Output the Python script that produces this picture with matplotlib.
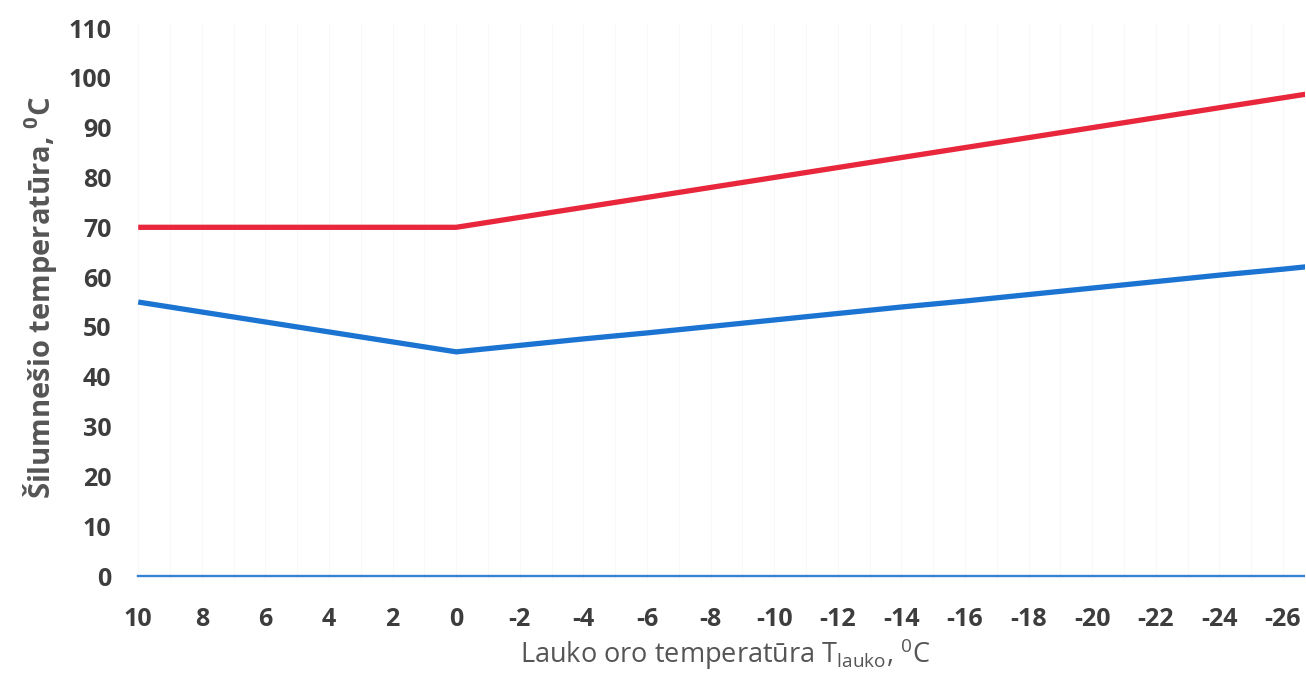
import matplotlib
matplotlib.use('Agg')
import matplotlib.pyplot as plt

# outdoor temperature, every 2 degrees (last point runs past the cropped edge)
t_outdoor = [10, 8, 6, 4, 2, 0, -2, -4, -6, -8, -10, -12, -14, -16, -18, -20,
             -22, -24, -26, -28]
# supply temperature (red)
t_supply = [70, 70, 70, 70, 70, 70, 72, 74, 76, 78, 80, 82, 84, 86, 88, 90,
            92, 94, 96, 98]
# return temperature (blue)
t_return = [55, 53, 51, 49, 47, 45, 46.3, 47.6, 48.8, 50.1, 51.4, 52.7, 54.0,
            55.2, 56.5, 57.8, 59.1, 60.4, 61.6, 62.9]
# third series sitting on zero
t_zero = [0] * len(t_outdoor)

x_ticks = list(range(10, -27, -2))
y_ticks = list(range(0, 111, 10))

plt.rcParams['font.family'] = ['Open Sans', 'DejaVu Sans']
plt.rcParams['axes.unicode_minus'] = False

fig = plt.figure(figsize=(13.06, 6.76), dpi=100)
ax = fig.add_axes([0.1034, 0.1405, 0.896, 0.8254])

# very faint vertical gridlines every degree
for xv in range(10, -27, -1):
    ax.axvline(xv, color='#f8f8f8', lw=0.9, zorder=0)

ax.plot(t_outdoor, t_supply, color='#e8263c', lw=3.8, solid_capstyle='butt', zorder=3)
ax.plot(t_outdoor, t_return, color='#1b74d2', lw=3.8, solid_capstyle='butt', zorder=3)
ax.plot(t_outdoor, t_zero, color='#3584d4', lw=1.7, zorder=2)

ax.set_xlim(10.1, -26.7)
ax.set_ylim(-1, 111)
ax.set_xticks(x_ticks)
ax.set_yticks(y_ticks)

for s in ax.spines.values():
    s.set_visible(False)
ax.tick_params(length=0, labelsize=18, labelcolor='#3d3d3d')
ax.tick_params(axis='x', pad=19)
ax.tick_params(axis='y', pad=17)
for lbl in ax.get_xticklabels() + ax.get_yticklabels():
    lbl.set_fontweight('bold')

fig.text(0.031, 0.56, 'Šilumnešio temperatūra, $^{\\mathregular{0}}$C', rotation=90,
         ha='center', va='center', fontsize=21, fontweight='bold', color='#555555')
fig.text(0.555, 0.019, 'Lauko oro temperatūra T$_{\\mathregular{lauko}}$, $^{\\mathregular{0}}$C',
         ha='center', va='baseline', fontsize=19.5, color='#555555')

fig.savefig('out.png', dpi=100, facecolor='white')
